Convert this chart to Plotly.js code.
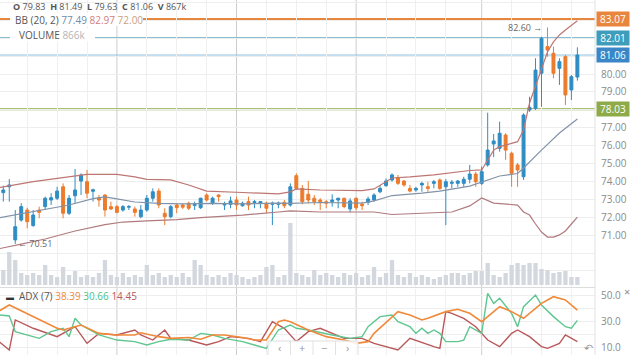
<!DOCTYPE html>
<html><head><meta charset="utf-8">
<script src="https://cdn.plot.ly/plotly-3.0.1.min.js"></script>
<style>html,body{margin:0;padding:0;background:#fff;overflow:hidden}#chart{width:630px;height:355px}</style>
</head><body><div id="chart"></div>
<script>
// ---------- DATA ----------
const OPEN  = [73.37,73.70,70.73,71.84,72.40,71.53,72.40,72.59,72.96,73.06,73.70,72.22,73.20,74.02,73.98,73.45,73.09,73.24,72.59,72.59,72.40,72.56,72.46,72.03,72.40,73.06,73.46,72.22,72.03,72.68,72.68,72.78,72.65,72.53,73.24,72.78,73.24,72.68,72.72,72.96,72.64,72.87,72.81,72.78,72.78,72.72,72.72,72.83,72.68,74.32,73.61,73.28,73.06,72.96,72.87,72.87,72.96,73.06,72.46,73.06,72.72,72.83,72.96,73.42,73.76,74.08,74.21,74.02,73.61,73.52,73.80,73.70,73.89,74.08,73.70,73.89,73.89,73.89,74.12,74.41,73.89,74.92,76.09,75.85,76.59,75.57,74.92,74.26,77.99,78.08,80.04,81.53,81.16,80.32,80.97,79.11,79.83];
const HIGH  = [73.76,74.13,72.40,72.78,72.53,72.40,72.59,73.15,73.34,73.70,73.89,73.24,74.69,74.45,74.64,73.59,73.24,73.28,72.87,72.68,72.68,72.68,72.59,72.68,73.24,73.61,73.61,72.50,72.68,72.78,72.78,72.87,72.87,73.09,73.34,73.15,73.28,72.87,73.15,73.15,72.87,73.15,72.96,72.90,72.87,72.87,72.87,72.96,73.89,74.45,73.80,74.02,73.24,73.06,72.96,73.28,73.09,73.09,73.06,73.09,72.87,73.15,73.34,73.80,74.17,74.45,74.36,74.08,73.80,73.70,73.98,73.98,74.08,74.17,74.13,74.08,74.08,74.26,74.92,74.54,74.82,77.84,76.65,77.34,76.69,75.66,75.03,77.80,78.73,80.88,82.08,82.60,81.53,80.88,81.06,79.94,81.49];
const LOW   = [72.87,72.87,70.51,71.75,71.38,71.47,71.94,72.40,72.68,72.96,71.94,72.12,72.78,73.24,73.06,72.87,72.59,72.03,72.40,72.22,72.31,72.40,72.03,71.94,72.31,72.87,72.50,71.56,71.94,72.22,72.46,72.40,72.40,72.46,72.87,72.68,72.87,72.40,72.50,72.40,72.59,72.40,72.50,72.50,72.22,71.56,72.50,72.50,72.59,73.52,72.72,72.78,72.68,72.40,72.50,72.59,72.50,72.50,72.27,72.40,72.40,72.68,72.87,73.34,73.70,73.98,73.80,73.70,73.39,73.42,73.42,73.42,73.61,73.52,71.56,73.61,73.70,73.70,73.89,73.70,73.80,74.82,75.36,75.66,75.20,73.70,73.70,74.08,77.89,77.99,78.17,80.97,79.76,79.39,78.27,78.55,79.63];
const CLOSE = [73.52,73.80,71.47,72.59,71.75,72.12,72.27,73.06,73.09,73.46,72.22,73.06,73.52,74.36,73.34,73.53,72.96,72.40,72.46,72.27,72.59,72.59,72.27,72.40,73.06,73.42,72.68,72.03,72.59,72.53,72.56,72.50,72.71,73.06,72.96,73.06,73.15,72.72,72.91,72.68,72.78,72.68,72.87,72.87,72.50,72.78,72.78,72.64,73.70,73.61,72.87,72.96,72.87,72.87,72.78,72.96,73.06,72.59,72.91,72.53,72.64,73.02,73.24,73.61,74.02,74.36,73.89,73.80,73.46,73.61,73.89,73.61,73.98,73.61,73.98,73.95,74.02,74.12,74.41,73.98,74.54,75.75,76.26,76.69,75.75,74.45,74.64,77.71,78.14,80.22,81.99,81.34,80.04,80.69,78.83,79.85,81.06];
// volume, thousands of shares
const VOLUME_K = [1620,3564,2700,1296,1080,1296,1080,2160,1080,864,1944,1080,1512,864,1080,864,1296,2700,1080,864,1296,864,1080,864,2160,1080,1296,864,1080,864,1296,864,2700,2160,1080,864,1080,864,1296,1080,864,648,864,1080,1944,2160,864,1080,6696,1296,1080,864,1620,1080,1296,1080,864,1296,1080,1296,864,1080,1944,864,1296,2700,1080,864,1296,864,1080,864,648,864,1080,1296,1296,1080,1296,1512,1512,2376,1080,864,1296,2160,2376,2160,2376,2376,1728,1620,1296,1404,1512,864,866];

// Bollinger bands (20, 2) read at vertices (day index -> price)
const BB_UP_IDX  = [-1,0,5,11,14,19,22,24,28,31,34,40,46,48,49,53,60,62,65,68,72,78,80,82,83,86,87,88,89,90,91,92,93,94,95,96];
const BB_UP      = [73.64,73.69,73.99,74.25,74.39,74.39,74.25,74.11,74.08,73.80,73.46,73.38,73.30,73.41,73.58,73.52,73.49,73.58,74.19,74.25,74.36,74.61,74.64,75.75,75.94,76.22,76.87,78.38,79.33,80.34,81.23,81.79,82.18,82.46,82.74,82.97];
const BB_MID_IDX = [-1,0,5,11,15,17,19,22,26,30,35,40,46,48,53,60,62,65,70,73,78,80,81,83,86,87,90,93,96];
const BB_MID     = [71.95,72.01,72.29,72.68,73.04,73.13,73.02,72.85,72.77,72.74,72.77,72.74,72.79,72.77,72.82,72.79,72.91,73.21,73.35,73.46,73.74,73.97,74.08,74.30,74.44,74.75,75.75,76.70,77.49];
const BB_LOW_IDX = [-1,0,3,7,12,17,20,24,29,33,40,46,48,53,62,65,72,75,78,80,82,86,87,88,89,90,91,92,93,94,95,96];
const BB_LOW     = [70.22,70.28,70.50,70.78,71.23,71.59,71.73,71.79,71.87,71.98,72.12,72.29,72.35,72.29,72.29,72.15,72.23,72.29,72.63,73.07,72.79,72.68,72.29,72.12,71.62,71.17,70.89,70.89,71.01,71.23,71.62,72.01];

// ADX (7) panel
const ADX_IDX = [-1,1,9,10,13,16,19,22,23,26,28,31,33,35,37,40,42,44,46,47,48,51,54,57,59,61,62,66,68,70,71,74,76,78,80,83,85,87,90,92,94,96];
const ADX     = [37.0,42.4,24.6,23.3,27.1,20.7,19.5,19.5,21.2,18.2,16.9,17.6,16.2,19.5,19.5,17.6,15.6,15.6,29.6,30.9,29.6,23.3,18.2,15.6,13.1,14.4,20.7,37.3,34.7,30.9,32.2,37.3,39.1,36.0,29.6,41.1,37.3,32.2,43.6,48.7,46.2,38.39];
const PDI_IDX = [-1,1,2,6,8,10,11,12,13,16,19,22,24,26,28,31,33,35,37,40,42,44,46,48,49,51,55,58,60,61,63,65,66,68,69,70,71,72,73,74,76,77,78,80,81,82,83,85,86,87,89,90,92,94,95,96];
const PDI     = [35.0,34.0,22.0,16.9,22.0,24.6,18.2,32.2,27.1,19.5,15.6,14.4,11.8,14.4,16.2,15.6,20.7,19.5,16.9,14.4,11.8,9.3,23.3,27.1,24.6,23.3,19.5,16.9,18.2,25.8,33.5,34.7,29.6,25.8,20.7,24.6,20.7,23.3,20.7,14.4,14.4,15.6,25.8,20.7,51.3,43.6,47.5,36.0,25.8,41.1,50.0,42.4,33.5,25.8,24.6,30.66];
const MDI_IDX = [-1,1,2,5,9,12,14,16,19,22,23,25,27,28,31,34,36,38,41,43,45,47,49,51,53,55,57,60,62,66,68,72,73,74,75,77,79,81,83,85,86,88,90,91,93,94,96];
const MDI     = [15.6,8.0,31.0,24.6,18.2,25.8,13.1,20.7,19.5,23.3,19.5,15.6,23.3,16.9,15.6,11.8,14.4,18.2,16.9,14.4,29.6,24.6,14.4,22.0,24.6,20.7,16.9,16.9,13.1,8.0,16.9,10.6,9.3,37.3,36.0,32.2,25.8,15.6,10.6,20.7,23.3,18.2,10.6,9.3,13.1,19.5,14.45];

// price levels marked on the right axis
const LEVELS = [83.07, 82.01, 81.06, 78.03];
const PRICE_TICKS = [69,70,71,72,73,74,75,76,77,78,79,80,81,82,83,84];
const PRICE_TICK_SHOWN = [71,72,73,74,75,76,77,79,80];
const MONTH_START_IDX = [19, 39, 59, 80];
const WEEK_IDX = [4,9,14,24,29,34,44,49,54,64,69,74,85,90,95];

// ---------- STYLE / LAYOUT ----------
const W = 630, H = 355;
const px = x => x / W, py = y => 1 - y / H;
const FONT = '"Open Sans", "Liberation Sans", Arial, sans-serif';
const BLUE = '#2f8dc3', ORANGE = '#ec7b2d';
const LEVEL_COLORS = ['#e9863d', '#3e9dbb', '#3a86c6', '#8dab48'];
const LEVEL_LINE = ['#e9863d', '#5fa9c2', '#8cc0e0', '#8dab48'];
const LEVEL_W = [2, 1.5, 1, 2];

const idx = OPEN.map((_, i) => i);
const STEP = 5.98, X0 = 3.3, PLOT_R = 595;
const xr0 = -X0 / STEP, xr1 = xr0 + PLOT_R / STEP;
const PPX = 17.9, Y80 = 74, MAIN_B = 287;
const yTop = 80 + Y80 / PPX, yBot = 80 - (MAIN_B - Y80) / PPX;
const VK = 108; // thousands per pixel
const ADX_PX = 1.31, Y50 = 295;
const aBot = 50 - (H - Y50) / ADX_PX, aTop = 50 + (Y50 - 289) / ADX_PX;

const traces = [
  {type:'bar', x: idx, y: VOLUME_K, marker:{color:'#d3d7de'}, width:0.72, xaxis:'x', yaxis:'y2', hoverinfo:'skip'},
  {type:'scatter', mode:'lines', x: BB_UP_IDX, y: BB_UP, line:{color:'#bd7672', width:1.2}, xaxis:'x', yaxis:'y', hoverinfo:'skip'},
  {type:'scatter', mode:'lines', x: BB_MID_IDX, y: BB_MID, line:{color:'#8293a8', width:1.2}, xaxis:'x', yaxis:'y', hoverinfo:'skip'},
  {type:'scatter', mode:'lines', x: BB_LOW_IDX, y: BB_LOW, line:{color:'#b07a7e', width:1.2}, xaxis:'x', yaxis:'y', hoverinfo:'skip'},
  {type:'candlestick', x: idx, open: OPEN, high: HIGH, low: LOW, close: CLOSE,
   increasing:{line:{color:BLUE, width:1}, fillcolor:BLUE},
   decreasing:{line:{color:ORANGE, width:1}, fillcolor:ORANGE},
   whiskerwidth:0, xaxis:'x', yaxis:'y', hoverinfo:'skip'},
  {type:'scatter', mode:'lines', x: MDI_IDX, y: MDI, line:{color:'#b9585a', width:1.4}, xaxis:'x', yaxis:'y3', hoverinfo:'skip'},
  {type:'scatter', mode:'lines', x: PDI_IDX, y: PDI, line:{color:'#5fc690', width:1.4}, xaxis:'x', yaxis:'y3', hoverinfo:'skip'},
  {type:'scatter', mode:'lines', x: ADX_IDX, y: ADX, line:{color:'#f08a3a', width:1.6}, xaxis:'x', yaxis:'y3', hoverinfo:'skip'}
];

const shapes = [];
MONTH_START_IDX.forEach(m => shapes.push({type:'line', xref:'x', x0:m, x1:m, yref:'paper', y0:0, y1:1, line:{color:'#cdcdcd', width:1}, layer:'below'}));
LEVELS.forEach((lv, k) => shapes.push({type:'line', xref:'paper', x0:0, x1:px(PLOT_R), yref:'y', y0:lv, y1:lv, line:{color:LEVEL_LINE[k], width:LEVEL_W[k]}, layer:'below'}));
shapes.push({type:'line', xref:'paper', x0:0, x1:px(PLOT_R), yref:'paper', y0:py(287.5), y1:py(287.5), line:{color:'#dcdcdc', width:1}});
shapes.push({type:'line', xref:'paper', x0:px(PLOT_R), x1:px(PLOT_R), yref:'paper', y0:0, y1:1, line:{color:'#e2e2e2', width:1}});
// legend backgrounds
shapes.push({type:'rect', xref:'paper', yref:'paper', x0:px(10), x1:px(143), y0:py(26), y1:py(13), fillcolor:'#fff', line:{width:0}, layer:'above'});
shapes.push({type:'rect', xref:'paper', yref:'paper', x0:px(10), x1:px(95), y0:py(41.5), y1:py(28.5), fillcolor:'#fff', line:{width:0}, layer:'above'});
// navigation box
shapes.push({type:'rect', xref:'paper', yref:'paper', x0:px(268), x1:px(358), y0:py(362), y1:py(341), fillcolor:'rgba(255,255,255,0.85)', line:{color:'#dedede', width:1}, layer:'above'});
[290.5, 313, 335.5].forEach(v => shapes.push({type:'line', xref:'paper', yref:'paper', x0:px(v), x1:px(v), y0:py(362), y1:py(341), line:{color:'#e2e2e2', width:1}, layer:'above'}));

const annotations = [];
const ann = (x, y, text, size, color, anchor, pad) => annotations.push({xref:'paper', yref:'paper', x:px(x), y:py(y), text, showarrow:false, xanchor:anchor||'left', yanchor:'middle', borderpad:(pad===undefined?1:pad), font:{family:FONT, size, color}});
ann(12, 6.8, '<b>O</b> 79.83  <b>H</b> 81.49  <b>L</b> 79.63  <b>C</b> 81.06  <b>V</b> 867k', 9, '#555', 'left', 0);
ann(14, 19.5, 'BB (20, 2) <span style="color:#6f8cad">77.49</span> <span style="color:#d2807e">82.97</span> <span style="color:#c99f7c">72.00</span>', 10, '#555', 'left', 0);
ann(18, 35, 'VOLUME <span style="color:#b5b5b5">866k</span>', 10, '#555', 'left', 0);
ann(4, 296, '<b>▬</b>', 8, '#333');
ann(17, 296, 'ADX (7) <span style="color:#f08a3a">38.39</span> <span style="color:#4fbf86">30.66</span> <span style="color:#b9585a">14.45</span>', 10, '#555');
ann(622, 291, '×', 11, '#888', 'left');
ann(582, 347, '↶', 11, '#999', 'left');
ann(279.5, 347.5, '‹', 11, '#999', 'center', 0);
ann(302, 347.5, '+', 11, '#999', 'center', 0);
ann(324.5, 347.5, '−', 11, '#999', 'center', 0);
ann(347, 347.5, '›', 11, '#999', 'center', 0);
LEVELS.forEach((lv, k) => annotations.push({xref:'paper', yref:'y', x:px(596), y:lv, xanchor:'left', yanchor:'middle', text:lv.toFixed(2), showarrow:false, bgcolor:LEVEL_COLORS[k], width:30, height:12, borderpad:1, font:{family:FONT, size:10, color:'#fff'}}));
annotations.push({xref:'x', yref:'y', x:91, y:HIGH[91], xanchor:'right', yanchor:'middle', xshift:-3, text:HIGH[91].toFixed(2) + ' →', showarrow:false, font:{family:FONT, size:9, color:'#666'}});
annotations.push({xref:'x', yref:'y', x:2, y:LOW[2], xanchor:'left', yanchor:'middle', xshift:1, text:'← ' + LOW[2].toFixed(2), showarrow:false, font:{family:FONT, size:9, color:'#666'}});

const layout = {
  width: W, height: H, margin:{l:0, r:0, t:0, b:0},
  paper_bgcolor:'#fff', plot_bgcolor:'#fff', showlegend:false,
  xaxis:{domain:[0, px(PLOT_R)], range:[xr0, xr1], showticklabels:false, ticks:'', tickvals:WEEK_IDX, showgrid:true, gridcolor:'#f0f0f0', zeroline:false, rangeslider:{visible:false}, fixedrange:true},
  yaxis:{domain:[py(MAIN_B), 1], range:[yBot, yTop], side:'right', tickvals:PRICE_TICKS,
         ticktext:PRICE_TICKS.map(v => PRICE_TICK_SHOWN.includes(v) ? v.toFixed(2) : ''),
         showgrid:true, gridcolor:'#eeeeee', zeroline:false, ticks:'', ticklabelstandoff:5,
         tickfont:{family:FONT, size:10, color:'#8a8a8a'}, fixedrange:true},
  yaxis2:{overlaying:'y', range:[-2*VK, 285*VK], showgrid:false, showticklabels:false, zeroline:false, fixedrange:true},
  yaxis3:{domain:[0, py(289)], range:[aBot, aTop], side:'right', tickvals:[10,20,30,40,50], ticktext:['10.0','','30.0','','50.0'],
          showgrid:true, gridcolor:'#eeeeee', zeroline:false, ticks:'', ticklabelstandoff:5,
          tickfont:{family:FONT, size:10, color:'#8a8a8a'}, fixedrange:true},
  shapes, annotations
};
Plotly.newPlot('chart', traces, layout, {staticPlot:true, displayModeBar:false});
</script></body></html>
